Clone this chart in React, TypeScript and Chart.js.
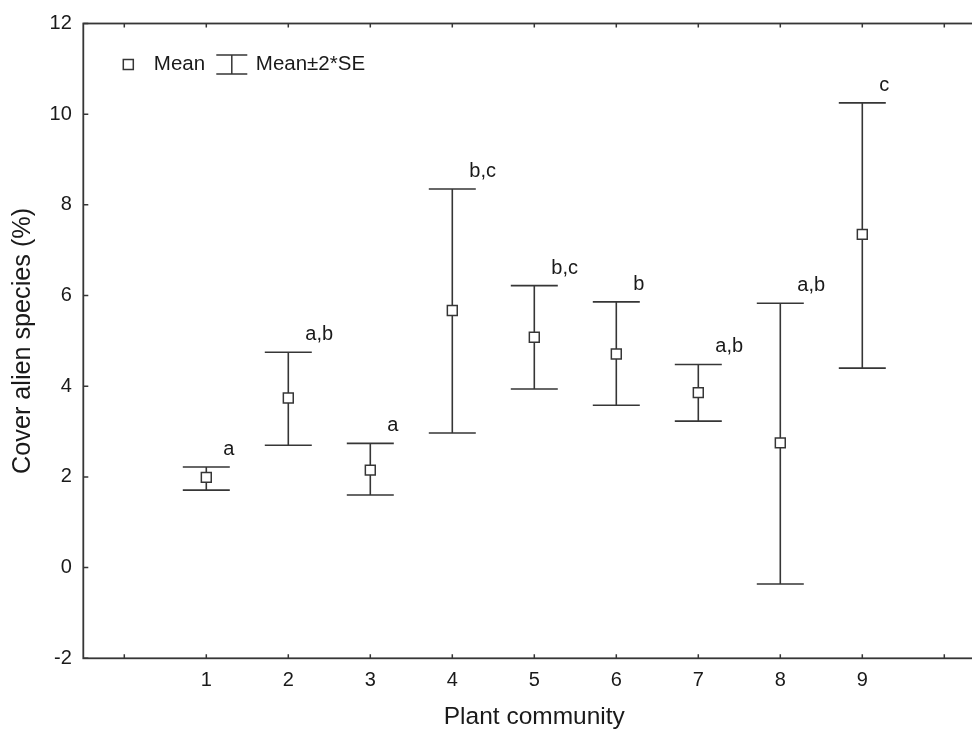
import React, { useEffect, useRef } from 'react';
import { Chart, registerables } from 'chart.js';

Chart.register(...registerables);

// ---- data ----
const communities = [1, 2, 3, 4, 5, 6, 7, 8, 9];
const means = [1.99, 3.74, 2.15, 5.67, 5.08, 4.71, 3.86, 2.75, 7.35];
const upperBounds = [2.22, 4.75, 2.74, 8.35, 6.22, 5.86, 4.48, 5.83, 10.25];
const lowerBounds = [1.71, 2.70, 1.60, 2.97, 3.94, 3.58, 3.23, -0.36, 4.40];
const groupLetters = ['a', 'a,b', 'a', 'b,c', 'b,c', 'b', 'a,b', 'a,b', 'c'];
const xTickValues = [0, 1, 2, 3, 4, 5, 6, 7, 8, 9, 10];
const yTickValues = [-2, 0, 2, 4, 6, 8, 10, 12];
const xLabel = 'Plant community';
const yLabel = 'Cover alien species (%)';
const legendMean = 'Mean';
const legendBar = 'Mean±2*SE';

// ---- style ----
const W = 1000;
const H = 732;
const FONT = '"Liberation Sans", Arial, Helvetica, sans-serif';
const TEXT = '#1a1a1a';
const LINE = '#363636';

const drawPlugin = {
  id: 'statFrame',
  beforeDatasetsDraw(chart: any) {
    const { ctx, chartArea: a, scales } = chart;
    const xs = scales.x;
    const ys = scales.y;
    ctx.save();
    // frame
    ctx.strokeStyle = LINE;
    ctx.lineWidth = 1.8;
    ctx.strokeRect(a.left, a.top, a.right - a.left, a.bottom - a.top);
    // inward ticks
    ctx.lineWidth = 1.5;
    ctx.beginPath();
    for (const v of xTickValues) {
      const px = xs.getPixelForValue(v);
      ctx.moveTo(px, a.bottom);
      ctx.lineTo(px, a.bottom - 4);
      ctx.moveTo(px, a.top);
      ctx.lineTo(px, a.top + 4);
    }
    for (const v of yTickValues) {
      const py = ys.getPixelForValue(v);
      ctx.moveTo(a.left, py);
      ctx.lineTo(a.left + 5, py);
      ctx.moveTo(a.right, py);
      ctx.lineTo(a.right - 5, py);
    }
    ctx.stroke();

    // error bars
    const capHalf = 23.5;
    ctx.lineWidth = 1.6;
    ctx.beginPath();
    communities.forEach((c, i) => {
      const px = xs.getPixelForValue(c);
      const pu = ys.getPixelForValue(upperBounds[i]);
      const pl = ys.getPixelForValue(lowerBounds[i]);
      ctx.moveTo(px, pu);
      ctx.lineTo(px, pl);
      ctx.moveTo(px - capHalf, pu);
      ctx.lineTo(px + capHalf, pu);
      ctx.moveTo(px - capHalf, pl);
      ctx.lineTo(px + capHalf, pl);
    });
    ctx.stroke();

    // group letters
    ctx.fillStyle = TEXT;
    ctx.font = `20px ${FONT}`;
    ctx.textAlign = 'left';
    ctx.textBaseline = 'middle';
    communities.forEach((c, i) => {
      const px = xs.getPixelForValue(c);
      const pu = ys.getPixelForValue(upperBounds[i]);
      ctx.fillText(groupLetters[i], px + 17, pu - 17.5);
    });

    // legend
    const lx = a.left;
    const ly = a.top + 41;
    ctx.font = `20.5px ${FONT}`;
    ctx.lineWidth = 1.5;
    ctx.strokeStyle = LINE;
    ctx.fillStyle = '#fff';
    ctx.fillRect(lx + 40, ly - 5, 10, 10);
    ctx.strokeRect(lx + 40, ly - 5, 10, 10);
    ctx.fillStyle = TEXT;
    ctx.fillText(legendMean, lx + 70.5, ly);
    ctx.beginPath();
    ctx.moveTo(lx + 133, ly - 9.5);
    ctx.lineTo(lx + 164, ly - 9.5);
    ctx.moveTo(lx + 148.5, ly - 9.5);
    ctx.lineTo(lx + 148.5, ly + 9.5);
    ctx.moveTo(lx + 133, ly + 9.5);
    ctx.lineTo(lx + 164, ly + 9.5);
    ctx.stroke();
    ctx.fillText(legendBar, lx + 172.5, ly);
    ctx.restore();
  },
};

export default function App() {
  const canvasRef = useRef<HTMLCanvasElement | null>(null);

  useEffect(() => {
    const canvas = canvasRef.current;
    if (!canvas) return;
    const chart = new Chart(canvas, {
      type: 'scatter',
      data: {
        datasets: [
          {
            label: legendMean,
            data: communities.map((c, i) => ({ x: c, y: means[i] })),
            pointStyle: 'rect',
            pointRadius: 7,
            pointHoverRadius: 7,
            backgroundColor: '#ffffff',
            borderColor: LINE,
            borderWidth: 1.5,
            showLine: false,
          },
        ],
      },
      options: {
        animation: false,
        responsive: false,
        events: [],
        layout: { padding: { top: 22.7, right: W - 985.3, left: 0, bottom: 0 } },
        plugins: {
          legend: { display: false },
          tooltip: { enabled: false },
        },
        scales: {
          x: {
            type: 'linear',
            min: -0.5,
            max: 10.5,
            afterBuildTicks: (s: any) => {
              s.ticks = xTickValues.map((v) => ({ value: v }));
            },
            afterFit: (s: any) => {
              s.height = 73.7;
            },
            grid: { display: false, drawTicks: false },
            border: { display: false },
            ticks: {
              autoSkip: false,
              maxRotation: 0,
              padding: 10.5,
              color: TEXT,
              font: { size: 20, family: FONT },
              callback: (v: any) => (communities.includes(Number(v)) ? String(v) : ''),
            },
            title: {
              display: true,
              text: xLabel,
              color: TEXT,
              font: { size: 24.5, family: FONT },
              padding: { top: 0, bottom: 0.3 },
            },
          },
          y: {
            type: 'linear',
            min: -2,
            max: 12,
            afterBuildTicks: (s: any) => {
              s.ticks = yTickValues.map((v) => ({ value: v }));
            },
            afterFit: (s: any) => {
              s.width = 83.3;
            },
            grid: { display: false, drawTicks: false },
            border: { display: false },
            ticks: {
              padding: 11.5,
              color: TEXT,
              font: { size: 20, family: FONT },
            },
            title: {
              display: true,
              text: yLabel,
              color: TEXT,
              font: { size: 25.2, family: FONT },
              padding: { top: 8, bottom: 0 },
            },
          },
        },
      },
      plugins: [drawPlugin],
    });
    return () => chart.destroy();
  }, []);

  return (
    <div
      style={{
        position: 'fixed',
        left: 0,
        top: 0,
        width: 972,
        height: 732,
        overflow: 'hidden',
        background: '#fff',
      }}
    >
      <canvas
        ref={canvasRef}
        width={W}
        height={H}
        style={{ display: 'block', width: W, height: H }}
      />
    </div>
  );
}
